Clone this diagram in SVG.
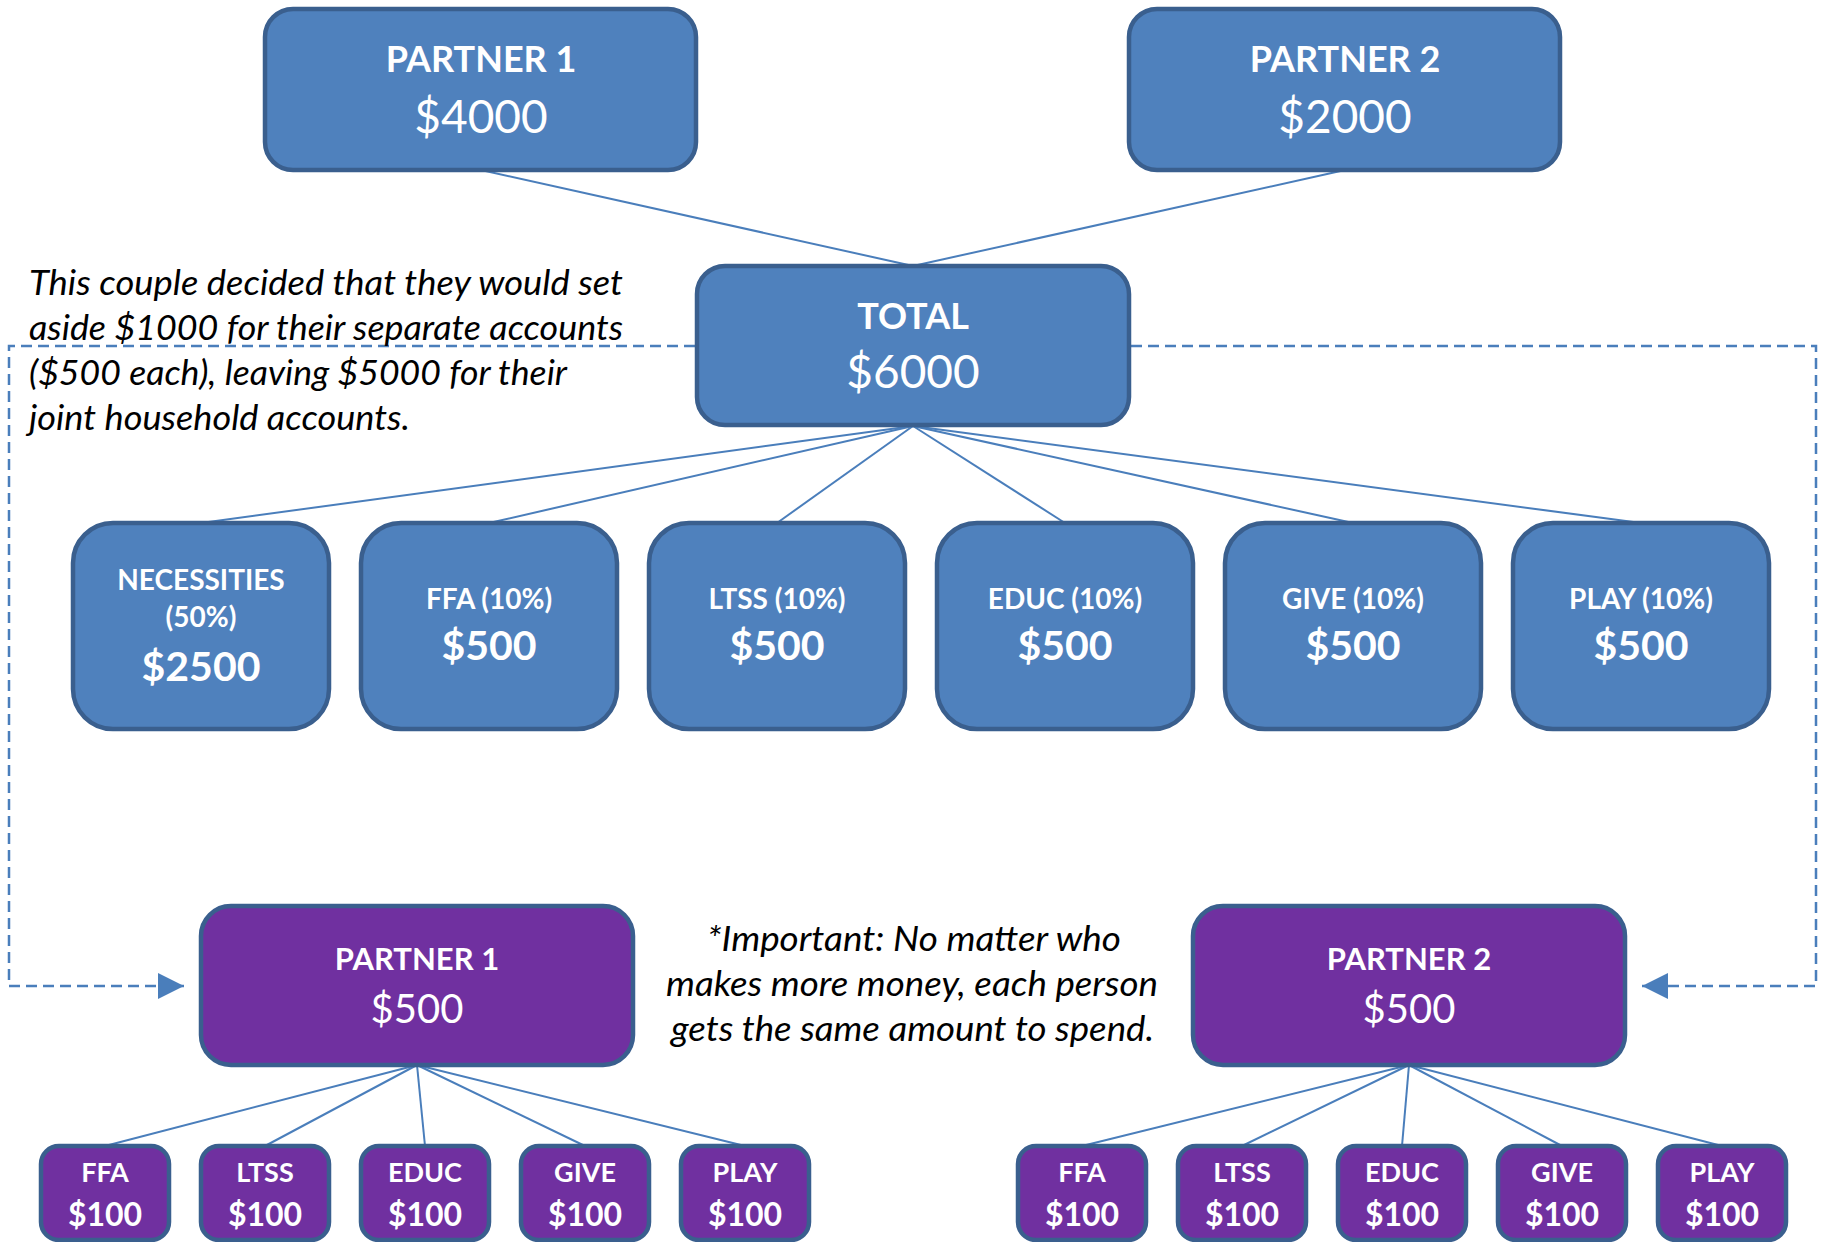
<svg xmlns="http://www.w3.org/2000/svg" width="1827" height="1242" viewBox="0 0 1827 1242">
<defs>
<style>
.blue{fill:#4F81BD;stroke:#3A5F8E;stroke-width:4.5}
.purple{fill:#7030A0;stroke:#3A5F8E;stroke-width:4.5}
.conn{stroke:#4A7EBB;stroke-width:2;fill:none}
.dash{stroke:#4A7EBB;stroke-width:2.5;fill:none;stroke-dasharray:11 6}
.t{font-family:Lato,"Open Sans","Liberation Sans",sans-serif;fill:#fff;text-anchor:middle}
.b{font-weight:bold}
.note{font-family:Lato,"Open Sans","Liberation Sans",sans-serif;font-style:italic;fill:#000;font-size:35px}
</style>
<marker id="arr" markerUnits="userSpaceOnUse" markerWidth="28" markerHeight="28" refX="26" refY="13" orient="auto">
<path d="M0,0 L26,13 L0,26 Z" fill="#4A7EBB"/>
</marker>
</defs>
<rect width="1827" height="1242" fill="#fff"/>

<g id="connectors">
<line class="conn" x1="481" y1="170" x2="913" y2="266"/>
<line class="conn" x1="1345" y1="170" x2="913" y2="266"/>
<line class="conn" x1="913" y1="426" x2="201" y2="523"/>
<line class="conn" x1="913" y1="426" x2="489" y2="523"/>
<line class="conn" x1="913" y1="426" x2="777" y2="523"/>
<line class="conn" x1="913" y1="426" x2="1065" y2="523"/>
<line class="conn" x1="913" y1="426" x2="1353" y2="523"/>
<line class="conn" x1="913" y1="426" x2="1641" y2="523"/>
<line class="conn" x1="417" y1="1065" x2="105" y2="1146"/>
<line class="conn" x1="417" y1="1065" x2="265" y2="1146"/>
<line class="conn" x1="417" y1="1065" x2="425" y2="1146"/>
<line class="conn" x1="417" y1="1065" x2="585" y2="1146"/>
<line class="conn" x1="417" y1="1065" x2="745" y2="1146"/>
<line class="conn" x1="1409" y1="1065" x2="1082" y2="1146"/>
<line class="conn" x1="1409" y1="1065" x2="1242" y2="1146"/>
<line class="conn" x1="1409" y1="1065" x2="1402" y2="1146"/>
<line class="conn" x1="1409" y1="1065" x2="1562" y2="1146"/>
<line class="conn" x1="1409" y1="1065" x2="1722" y2="1146"/>
<path class="dash" d="M695,346 H9 V986 H184" marker-end="url(#arr)"/>
<path class="dash" d="M1131,346 H1816 V986 H1642" marker-end="url(#arr)"/>
</g>

<g id="note1">
<text class="note" x="29" y="295" textLength="594" lengthAdjust="spacingAndGlyphs">This couple decided that they would set</text>
<text class="note" x="29" y="340" textLength="594" lengthAdjust="spacingAndGlyphs">aside $1000 for their separate accounts</text>
<text class="note" x="29" y="385" textLength="538" lengthAdjust="spacingAndGlyphs">($500 each), leaving $5000 for their</text>
<text class="note" x="29" y="430" textLength="381" lengthAdjust="spacingAndGlyphs">joint household accounts.</text>
</g>

<g id="note2">
<text class="note" x="707" y="951" textLength="414" lengthAdjust="spacingAndGlyphs">*Important: No matter who</text>
<text class="note" x="666" y="996" textLength="492" lengthAdjust="spacingAndGlyphs">makes more money, each person</text>
<text class="note" x="671" y="1041" textLength="483" lengthAdjust="spacingAndGlyphs">gets the same amount to spend.</text>
</g>

<g id="partner1-income">
<rect class="blue" x="265" y="9" width="431" height="161" rx="28"/>
<text class="t b" x="481" y="72" font-size="36">PARTNER 1</text>
<text class="t" x="481" y="133" font-size="46">$4000</text>
</g>
<g id="partner2-income">
<rect class="blue" x="1129" y="9" width="431" height="161" rx="28"/>
<text class="t b" x="1345" y="72" font-size="36">PARTNER 2</text>
<text class="t" x="1345" y="133" font-size="46">$2000</text>
</g>
<g id="total">
<rect class="blue" x="697" y="266" width="432" height="159" rx="28"/>
<text class="t b" x="913" y="329" font-size="36">TOTAL</text>
<text class="t" x="913" y="388" font-size="46">$6000</text>
</g>

<g id="necessities">
<rect class="blue" x="73" y="523" width="256" height="206" rx="40"/>
<text class="t b" x="201" y="590" font-size="28">NECESSITIES</text>
<text class="t b" x="201" y="627" font-size="28">(50%)</text>
<text class="t b" x="201" y="681" font-size="41">$2500</text>
</g>
<g id="ffa">
<rect class="blue" x="361" y="523" width="256" height="206" rx="40"/>
<text class="t b" x="489" y="609" font-size="28">FFA (10%)</text>
<text class="t b" x="489" y="660" font-size="41">$500</text>
</g>
<g id="ltss">
<rect class="blue" x="649" y="523" width="256" height="206" rx="40"/>
<text class="t b" x="777" y="609" font-size="28">LTSS (10%)</text>
<text class="t b" x="777" y="660" font-size="41">$500</text>
</g>
<g id="educ">
<rect class="blue" x="937" y="523" width="256" height="206" rx="40"/>
<text class="t b" x="1065" y="609" font-size="28">EDUC (10%)</text>
<text class="t b" x="1065" y="660" font-size="41">$500</text>
</g>
<g id="give">
<rect class="blue" x="1225" y="523" width="256" height="206" rx="40"/>
<text class="t b" x="1353" y="609" font-size="28">GIVE (10%)</text>
<text class="t b" x="1353" y="660" font-size="41">$500</text>
</g>
<g id="play">
<rect class="blue" x="1513" y="523" width="256" height="206" rx="40"/>
<text class="t b" x="1641" y="609" font-size="28">PLAY (10%)</text>
<text class="t b" x="1641" y="660" font-size="41">$500</text>
</g>

<g id="partner1-spend">
<rect class="purple" x="201" y="906" width="432" height="159" rx="30"/>
<text class="t b" x="417" y="970" font-size="31">PARTNER 1</text>
<text class="t" x="417" y="1023" font-size="40">$500</text>
</g>
<g id="partner2-spend">
<rect class="purple" x="1193" y="906" width="432" height="159" rx="30"/>
<text class="t b" x="1409" y="970" font-size="31">PARTNER 2</text>
<text class="t" x="1409" y="1023" font-size="40">$500</text>
</g>

<g id="p1-ffa"><rect class="purple" x="41" y="1146" width="128" height="94" rx="18"/><text class="t b" x="105" y="1182" font-size="27">FFA</text><text class="t b" x="105" y="1226" font-size="32">$100</text></g>
<g id="p1-ltss"><rect class="purple" x="201" y="1146" width="128" height="94" rx="18"/><text class="t b" x="265" y="1182" font-size="27">LTSS</text><text class="t b" x="265" y="1226" font-size="32">$100</text></g>
<g id="p1-educ"><rect class="purple" x="361" y="1146" width="128" height="94" rx="18"/><text class="t b" x="425" y="1182" font-size="27">EDUC</text><text class="t b" x="425" y="1226" font-size="32">$100</text></g>
<g id="p1-give"><rect class="purple" x="521" y="1146" width="128" height="94" rx="18"/><text class="t b" x="585" y="1182" font-size="27">GIVE</text><text class="t b" x="585" y="1226" font-size="32">$100</text></g>
<g id="p1-play"><rect class="purple" x="681" y="1146" width="128" height="94" rx="18"/><text class="t b" x="745" y="1182" font-size="27">PLAY</text><text class="t b" x="745" y="1226" font-size="32">$100</text></g>

<g id="p2-ffa"><rect class="purple" x="1018" y="1146" width="128" height="94" rx="18"/><text class="t b" x="1082" y="1182" font-size="27">FFA</text><text class="t b" x="1082" y="1226" font-size="32">$100</text></g>
<g id="p2-ltss"><rect class="purple" x="1178" y="1146" width="128" height="94" rx="18"/><text class="t b" x="1242" y="1182" font-size="27">LTSS</text><text class="t b" x="1242" y="1226" font-size="32">$100</text></g>
<g id="p2-educ"><rect class="purple" x="1338" y="1146" width="128" height="94" rx="18"/><text class="t b" x="1402" y="1182" font-size="27">EDUC</text><text class="t b" x="1402" y="1226" font-size="32">$100</text></g>
<g id="p2-give"><rect class="purple" x="1498" y="1146" width="128" height="94" rx="18"/><text class="t b" x="1562" y="1182" font-size="27">GIVE</text><text class="t b" x="1562" y="1226" font-size="32">$100</text></g>
<g id="p2-play"><rect class="purple" x="1658" y="1146" width="128" height="94" rx="18"/><text class="t b" x="1722" y="1182" font-size="27">PLAY</text><text class="t b" x="1722" y="1226" font-size="32">$100</text></g>
</svg>
